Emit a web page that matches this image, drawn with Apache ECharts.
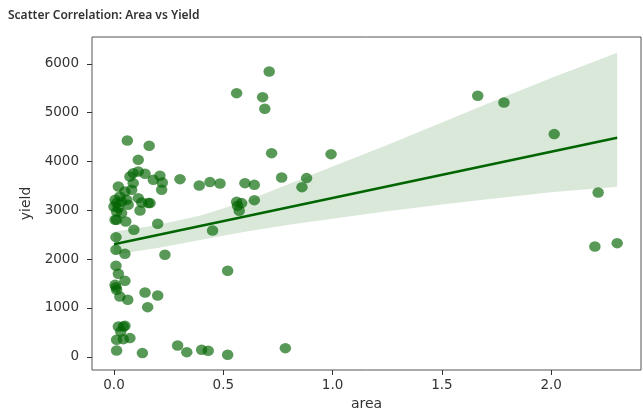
<!DOCTYPE html>
<html>
<head>
<meta charset="utf-8">
<title>Scatter Correlation: Area vs Yield</title>
<script src="https://cdn.jsdelivr.net/npm/echarts@6/dist/echarts.min.js"></script>
<style>
  html, body { margin: 0; padding: 0; background: #ffffff; }
  #chart { width: 643px; height: 409px; }
</style>
</head>
<body>
<div id="chart"></div>
<script>
// Field area (x) and yield (y) for each observation
const area = [
  0.710, 0.561, 0.680, 0.690, 0.061, 0.161, 0.111, 0.721, 0.993, 0.767,
  0.881, 0.860, 0.302, 0.390, 0.439, 0.485, 0.599, 0.642, 0.642, 0.561,
  0.584, 0.565, 0.573, 1.664, 1.784, 2.014, 2.215, 2.200, 2.302,
  0.088, 0.111, 0.142, 0.073, 0.180, 0.210, 0.221, 0.218, 0.088, 0.020,
  0.050, 0.081, 0.005, 0.027, 0.058, 0.111, 0.157, 0.065, 0.000, 0.012,
  0.127, 0.165, 0.012, 0.035, 0.119, 0.012, 0.054, 0.200, 0.091, 0.009,
  0.451, 0.020, 0.035, 0.005,
  0.009, 0.050, 0.233, 0.009, 0.020, 0.050, 0.009, 0.012, 0.005, 0.027,
  0.063, 0.142, 0.200, 0.154, 0.520,
  0.020, 0.043, 0.050, 0.031, 0.012, 0.043, 0.073, 0.012, 0.130, 0.291,
  0.333, 0.401, 0.431, 0.520, 0.784
];
const yieldValues = [
  5843, 5400, 5318, 5079, 4430, 4321, 4034, 4171, 4151, 3672,
  3660, 3475, 3639, 3508, 3578, 3549, 3557, 3522, 3209, 3174,
  3148, 3092, 2990, 5345, 5208, 4561, 3365, 2259, 2328,
  3762, 3795, 3748, 3692, 3625, 3707, 3570, 3420, 3557, 3488,
  3385, 3420, 3215, 3283, 3215, 3250, 3148, 3113, 3078, 3148,
  3160, 3148, 2976, 2943, 2996, 2806, 2771, 2724, 2601, 2451,
  2587, 3050, 3180, 2806,
  2191, 2109, 2089, 1864, 1700, 1556, 1427, 1372, 1474, 1235,
  1167, 1317, 1255, 1017, 1761,
  620, 620, 635, 518, 348, 362, 383, 129, 76, 231,
  96, 143, 123, 41, 178
];

// Fitted trend line (area -> yield) at the ends of the observed range
const fitArea = [0.0, 2.302];
const fitYield = [2305, 4485];

// Bootstrapped 95% confidence band around the trend line
const bandArea = [0.0, 0.2, 0.4, 0.6, 0.8, 1.0, 1.25, 1.5, 1.75, 2.0, 2.302];
const bandLow = [2090, 2230, 2400, 2560, 2703, 2830, 2980, 3120, 3250, 3370, 3481];
const bandHigh = [2560, 2700, 2900, 3180, 3540, 3900, 4340, 4800, 5260, 5710, 6226];

// Tick positions on each axis
const xTicks = [0.0, 0.5, 1.0, 1.5, 2.0];
const yTicks = [0, 1000, 2000, 3000, 4000, 5000, 6000];

const points = area.map((a, i) => [a, yieldValues[i]]);
const fitLine = fitArea.map((a, i) => [a, fitYield[i]]);

const chart = echarts.init(document.getElementById('chart'), null, { renderer: 'canvas' });

const labelFont = { fontFamily: 'DejaVu Sans', fontSize: 13.5, color: '#333333' };

chart.setOption({
  animation: false,
  backgroundColor: '#ffffff',
  title: {
    text: 'Scatter Correlation: Area vs Yield',
    left: 3,
    top: 5,
    textStyle: { fontFamily: 'Noto Sans', fontSize: 12, fontWeight: 600, color: '#333333' }
  },
  grid: {
    left: 92, right: 2, top: 37, bottom: 39,
    containLabel: false,
    outerBoundsMode: 'none',
    show: true, borderColor: '#555555', borderWidth: 1, backgroundColor: 'transparent'
  },
  xAxis: {
    type: 'value',
    min: -0.1006,
    max: 2.411,
    name: 'area',
    nameLocation: 'middle',
    nameGap: 24,
    nameTextStyle: { fontFamily: 'DejaVu Sans', fontSize: 14, color: '#333333' },
    axisLine: { show: false, onZero: false },
    splitLine: { show: false },
    axisTick: { show: true, length: 5, lineStyle: { color: '#333333' }, customValues: xTicks },
    axisLabel: Object.assign({ margin: 8, customValues: xTicks, formatter: v => v.toFixed(1) }, labelFont)
  },
  yAxis: {
    type: 'value',
    min: -270,
    max: 6550,
    name: 'yield',
    nameLocation: 'middle',
    nameRotate: 90,
    nameGap: 53,
    nameTextStyle: { fontFamily: 'DejaVu Sans', fontSize: 14, color: '#333333' },
    axisLine: { show: false, onZero: false },
    splitLine: { show: false },
    axisTick: { show: true, length: 5, lineStyle: { color: '#333333' }, customValues: yTicks },
    axisLabel: Object.assign({ margin: 13, customValues: yTicks, formatter: v => String(v) }, labelFont)
  },
  series: [
    {
      name: 'observations',
      type: 'scatter',
      data: points,
      symbol: 'circle',
      symbolSize: [11.5, 10.5],
      itemStyle: { color: 'rgba(0,100,0,0.82)' },
      z: 2
    },
    {
      name: 'confidence band',
      type: 'custom',
      data: [[bandArea[0], bandLow[0]]],
      clip: true,
      renderItem: function (params, api) {
        const upper = bandArea.map((a, i) => api.coord([a, bandHigh[i]]));
        const lower = bandArea.map((a, i) => api.coord([a, bandLow[i]])).reverse();
        return {
          type: 'polygon',
          shape: { points: upper.concat(lower) },
          style: { fill: 'rgba(0,100,0,0.15)', stroke: 'none' }
        };
      },
      z: 3
    },
    {
      name: 'fit',
      type: 'line',
      data: fitLine,
      showSymbol: false,
      lineStyle: { color: '#006400', width: 2.5 },
      z: 4
    }
  ]
});
</script>
</body>
</html>
